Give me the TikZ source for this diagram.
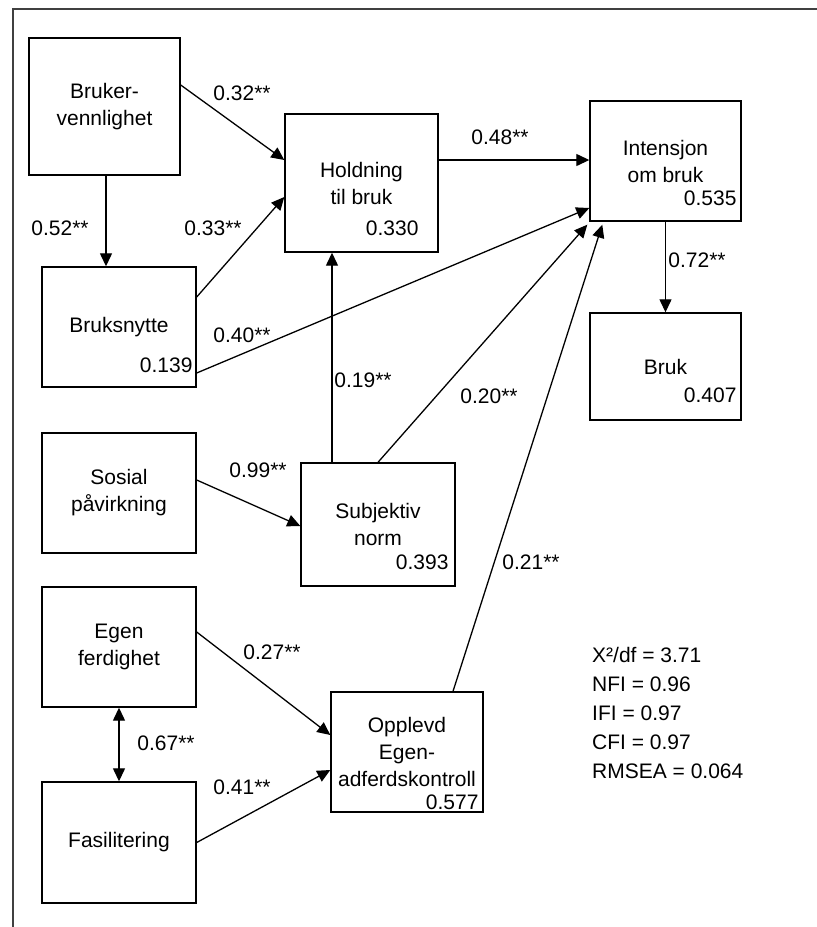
\documentclass[tikz,border=0pt]{standalone}
\usepackage{fontspec}
\setmainfont{Liberation Sans}
\usetikzlibrary{arrows.meta,calc}
\begin{document}
\begin{tikzpicture}[x=1pt,y=-1pt,
  box/.style={draw=black,line width=1.4pt,align=center,inner sep=0pt,font=\fontsize{21}{27}\selectfont},
  num/.style={anchor=east,inner sep=0pt,font=\fontsize{21}{27}\selectfont},
  lab/.style={inner sep=0pt,font=\fontsize{21}{27}\selectfont},
  arr/.style={line width=1.3pt,-{Triangle[length=13pt,width=12pt]}},
  darr/.style={line width=1.3pt,{Triangle[length=13pt,width=12pt]}-{Triangle[length=13pt,width=12pt]}},
  frame/.style={line width=2pt,draw=black!75}]
\useasboundingbox[fill=white] (0,0) rectangle (817,927);
\draw[frame] (13,927) -- (13,9) -- (817,9);

% boxes
\node[box,minimum width=151pt,minimum height=137pt] (bv) at (104.5,106.5) {Bruker-\\vennlighet};
\node[box,minimum width=153pt,minimum height=138pt] (hold) at (361.5,183) {Holdning\\til bruk};
\node[box,minimum width=151pt,minimum height=120pt] (int) at (665.5,161) {Intensjon\\om bruk};
\node[box,minimum width=151pt,minimum height=107pt] (bruk) at (665.5,366.5) {Bruk};
\node[box,minimum width=154pt,minimum height=120pt] (bn) at (119,327) {Bruksnytte};
\node[box,minimum width=154pt,minimum height=120pt] (sos) at (119,493) {Sosial\\påvirkning};
\node[box,minimum width=154pt,minimum height=123pt] (subj) at (378,524.5) {Subjektiv\\norm};
\node[box,minimum width=154pt,minimum height=120pt] (egen) at (119,647) {Egen\\ferdighet};
\node[box,minimum width=154pt,minimum height=121pt] (fas) at (119,842.5) {Fasilitering};
\node[box,minimum width=152pt,minimum height=120pt] (opp) at (407,752) {Opplevd\\Egen-\\adferdskontroll};

% explained variance
\node[num] (nhold) at ([xshift=-20pt,yshift=24pt]hold.south east) {0.330};
\node[num] (nint) at ([xshift=-5pt,yshift=23pt]int.south east) {0.535};
\node[num] (nbruk) at ([xshift=-5pt,yshift=25pt]bruk.south east) {0.407};
\node[num] (nbn) at ([xshift=-4pt,yshift=22pt]bn.south east) {0.139};
\node[num] (nsubj) at ([xshift=-7pt,yshift=24pt]subj.south east) {0.393};
\node[num] (nopp) at ([xshift=-5pt,yshift=10pt]opp.south east) {0.577};

% paths
\draw[arr] ([yshift=21.5pt]bv.east) -- ([yshift=23pt]hold.west);
\draw[arr] ([xshift=1.5pt]bv.south) -- ([xshift=1.5pt]bv.south |- bn.north);
\draw[arr] ([yshift=30pt]bn.east) -- ([yshift=-14pt]hold.west);
\draw[arr] ([yshift=-46pt]bn.east) -- ([yshift=-47pt]int.west);
\draw[arr] ([yshift=23pt]hold.east) -- ([yshift=23pt]hold.east -| int.west);
\draw[arr] (int.south) -- (bruk.north);
\draw[arr] ([yshift=13pt]sos.east) -- ([yshift=-1.5pt]subj.west);
\draw[arr] ([xshift=-46pt]subj.north) -- ([xshift=-46pt]subj.north |- hold.south);
\draw[arr] (subj.north) -- ([xshift=-2pt,yshift=-3pt]int.south west);
\draw[arr] ([xshift=46pt]opp.north) -- ([xshift=13pt,yshift=-3pt]int.south west);
\draw[arr] ([yshift=15pt]egen.east) -- ([yshift=17pt]opp.west);
\draw[arr] (fas.east) -- ([yshift=-18pt]opp.west);
\draw[darr] (egen.south) -- (fas.north);

% path coefficients
\node[lab] (l1) at (242,93) {0.32**};
\node[lab] (l2) at (60,228) {0.52**};
\node[lab] (l3) at (213,228) {0.33**};
\node[lab] (l4) at (500,137) {0.48**};
\node[lab] (l5) at (242,335) {0.40**};
\node[lab] (l6) at (697,260) {0.72**};
\node[lab] (l7) at (363,380) {0.19**};
\node[lab] (l8) at (489,396) {0.20**};
\node[lab] (l9) at (258,470) {0.99**};
\node[lab] (l10) at (531,562) {0.21**};
\node[lab] (l11) at (272,652) {0.27**};
\node[lab] (l12) at (166,743) {0.67**};
\node[lab] (l13) at (242,787) {0.41**};

% fit indices
\node[lab,anchor=west,align=left,font=\fontsize{21}{29}\selectfont] (fit) at (592,713)
  {X²/df = 3.71\\NFI = 0.96\\IFI = 0.97\\CFI = 0.97\\RMSEA = 0.064};
\end{tikzpicture}
\end{document}
